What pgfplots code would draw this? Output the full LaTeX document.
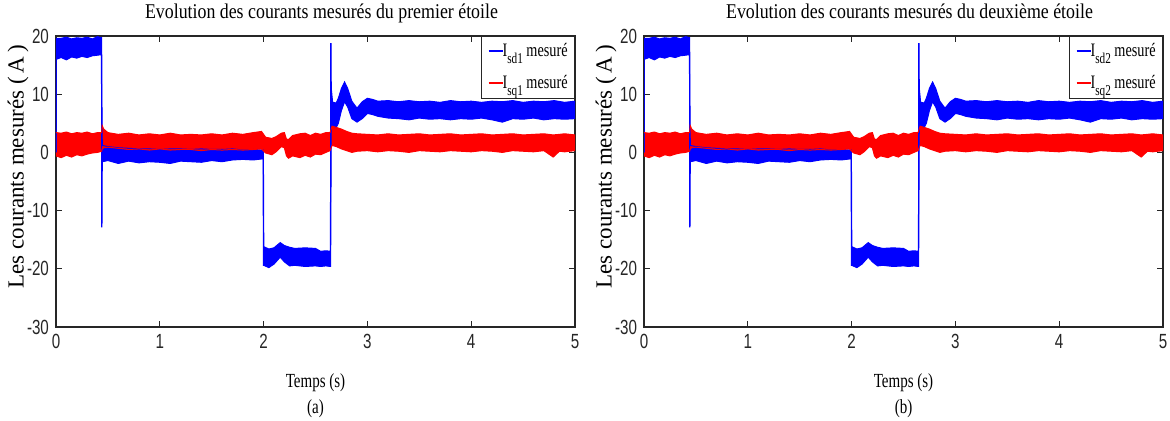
\documentclass[border=0pt]{standalone}
\usepackage{fontspec}
\setmainfont[FakeStretch=0.85]{Liberation Serif}
\newfontfamily\ylabfont{Liberation Serif}
\newfontfamily\labfont[FakeStretch=0.75]{Liberation Serif}
\newfontfamily\ticksf[FakeStretch=0.74]{Liberation Sans}
\usepackage{pgfplots}
\pgfplotsset{compat=1.18}
\usepgfplotslibrary{fillbetween}

% envelopes of the measured currents (x, lower edge, upper edge)
\pgfplotstableread{
x lo hi
0.000 0.0 0.0
0.002 16.0 19.6
0.05 16.3 19.6
0.10 15.9 19.8
0.15 16.4 19.5
0.20 16.2 19.7
0.25 16.5 19.6
0.30 16.3 19.8
0.35 16.6 19.5
0.40 16.7 19.9
0.438 16.8 19.7
0.440 -12.8 19.7
0.443 -12.8 8.1
0.446 -1.6 1.2
0.50 -1.4 1.0
0.60 -1.9 0.8
0.70 -1.5 0.7
0.80 -1.8 0.6
0.90 -1.6 0.6
1.00 -1.7 0.5
1.10 -1.9 0.6
1.20 -1.5 0.6
1.30 -1.6 0.5
1.40 -1.7 0.6
1.50 -1.4 0.5
1.60 -1.6 0.5
1.70 -1.3 0.6
1.80 -1.2 0.4
1.90 -1.3 0.5
1.995 -1.1 0.4
1.998 -19.4 0.4
2.002 -19.4 -16.2
2.05 -19.8 -16.6
2.10 -19.2 -16.4
2.16 -18.0 -15.5
2.20 -18.8 -16.0
2.25 -19.5 -16.3
2.30 -19.4 -16.5
2.40 -19.6 -16.4
2.50 -19.5 -16.5
2.55 -19.6 -17.0
2.60 -19.5 -16.9
2.644 -19.6 -17.0
2.646 -19.6 18.7
2.650 -3.0 18.7
2.652 4.8 11.0
2.665 4.6 8.6
2.70 4.3 8.5
2.72 5.0 9.3
2.75 7.2 11.0
2.78 8.7 12.1
2.81 7.8 11.0
2.85 5.8 8.8
2.90 5.2 7.6
2.95 5.8 8.7
3.00 6.7 9.3
3.05 6.5 9.1
3.10 6.2 8.8
3.20 5.9 8.9
3.30 5.8 8.7
3.40 5.6 8.9
3.50 5.9 8.7
3.60 5.7 8.8
3.70 5.8 8.6
3.80 5.6 8.9
3.90 5.8 8.7
4.00 5.7 8.8
4.10 5.9 8.6
4.20 5.6 8.8
4.30 5.2 8.7
4.40 5.8 8.9
4.50 5.7 8.6
4.60 5.9 8.8
4.70 5.6 8.7
4.80 5.8 8.9
4.90 5.7 8.6
5.00 5.8 8.8
}\isd

\pgfplotstableread{
x lo hi
0.00 -0.6 3.4
0.05 -0.9 3.3
0.10 -0.5 3.5
0.15 -0.8 3.2
0.20 -0.4 3.4
0.25 -0.6 3.3
0.30 -0.3 3.5
0.35 -0.1 3.2
0.40 0.0 3.4
0.44 0.2 3.4
0.445 0.6 4.6
0.46 0.8 4.0
0.50 0.9 3.4
0.60 0.7 3.1
0.70 0.5 3.3
0.80 0.6 3.0
0.90 0.4 3.2
1.00 0.6 3.0
1.10 0.4 3.3
1.20 0.5 3.0
1.30 0.5 3.1
1.40 0.3 3.0
1.50 0.5 3.2
1.60 0.4 3.0
1.70 0.5 3.3
1.80 0.4 3.1
1.90 0.5 3.4
1.98 0.6 3.6
2.02 -0.1 2.6
2.08 -0.4 2.4
2.12 0.1 2.7
2.17 1.0 3.3
2.20 0.8 3.4
2.22 -0.6 2.3
2.24 -1.0 2.2
2.28 -0.6 2.9
2.35 -0.9 3.2
2.40 -0.5 3.3
2.45 -0.8 2.9
2.50 -0.3 3.3
2.55 -0.4 3.1
2.60 0.0 3.4
2.64 0.3 3.4
2.66 1.2 4.5
2.70 1.0 4.3
2.75 0.6 4.0
2.80 0.3 3.6
2.85 0.0 3.3
2.90 0.2 3.2
3.00 0.3 3.1
3.10 0.1 3.0
3.20 0.3 3.2
3.30 0.2 3.0
3.40 0.0 3.1
3.50 0.3 3.2
3.60 0.2 3.0
3.70 0.1 3.1
3.80 0.3 3.2
3.90 0.2 3.0
4.00 0.1 3.1
4.10 0.3 3.2
4.20 0.2 3.0
4.30 0.0 3.1
4.40 0.3 3.2
4.50 0.2 3.0
4.60 0.1 3.1
4.70 0.3 3.2
4.79 -0.8 3.0
4.85 0.2 3.1
4.90 0.1 3.2
5.00 0.3 3.0
}\isq

\newcommand{\sub}[1]{\raisebox{-0.75ex}{\fontsize{7.5}{8}\selectfont #1}}
\newcommand{\key}[1]{\textcolor{#1}{\rule[0.55ex]{7pt}{0.8pt}}}

\pgfplotsset{
  panel/.style={
    scale only axis, width=259.5pt, height=145.5pt,
    xmin=0, xmax=5, ymin=-30, ymax=20,
    xtick={0,1,2,3,4,5}, ytick={-30,-20,-10,0,10,20},
    tick align=inside, major tick length=3pt,
    axis line style={black!85, line width=0.6pt},
    every tick/.style={black!85, line width=0.6pt},
    tick label style={font=\ticksf\fontsize{10.25}{12}\selectfont, text=black!85},
    /pgf/number format/assume math mode=true,
    title style={font=\fontsize{10.5}{12}\selectfont, yshift=-3pt, xshift=3pt, text depth=2pt},
    xlabel style={font=\labfont\fontsize{10}{13}\selectfont, align=center, yshift=-5.5pt},
    ylabel style={font=\ylabfont\fontsize{11.5}{13}\selectfont,
      at={(axis description cs:-0.073,0.55)}, anchor=center},
    ylabel={Les courants mesurés (\,A\,)},
    legend style={at={(1,1)}, anchor=north east, draw=black!85,
      font=\labfont\fontsize{9.5}{11}\selectfont, inner sep=1.5pt, row sep=4pt},
    legend cell align=left,
    legend image code/.code={},
  },
}

\begin{document}
\begin{tikzpicture}

\begin{axis}[panel, at={(0pt,0pt)},
  title={Evolution des courants mesurés du premier étoile},
  xlabel={Temps (s)\\(a)}]
\addplot[name path=ahi, color=blue, line width=0.5pt] table[x=x, y=hi] {\isd};
\addlegendentry{\key{blue}I\sub{sd1} mesuré}
\addplot[name path=alo, color=blue, line width=0.5pt, forget plot] table[x=x, y=lo] {\isd};
\addplot[blue, forget plot] fill between[of=ahi and alo];
\addplot[name path=bhi, color=red, line width=0.5pt] table[x=x, y=hi] {\isq};
\addlegendentry{\key{red}I\sub{sq1} mesuré}
\addplot[name path=blo, color=red, line width=0.5pt, forget plot] table[x=x, y=lo] {\isq};
\addplot[red, forget plot] fill between[of=bhi and blo];
\end{axis}

\begin{axis}[panel, at={(294pt,0pt)},
  title={Evolution des courants mesurés du deuxième étoile},
  xlabel={Temps (s)\\(b)}]
\addplot[name path=chi, color=blue, line width=0.5pt] table[x=x, y=hi] {\isd};
\addlegendentry{\key{blue}I\sub{sd2} mesuré}
\addplot[name path=clo, color=blue, line width=0.5pt, forget plot] table[x=x, y=lo] {\isd};
\addplot[blue, forget plot] fill between[of=chi and clo];
\addplot[name path=dhi, color=red, line width=0.5pt] table[x=x, y=hi] {\isq};
\addlegendentry{\key{red}I\sub{sq2} mesuré}
\addplot[name path=dlo, color=red, line width=0.5pt, forget plot] table[x=x, y=lo] {\isq};
\addplot[red, forget plot] fill between[of=dhi and dlo];
\end{axis}

\pgfresetboundingbox
\path[use as bounding box] (-28pt,-47pt) rectangle (557pt,163.5pt);
\end{tikzpicture}
\end{document}
